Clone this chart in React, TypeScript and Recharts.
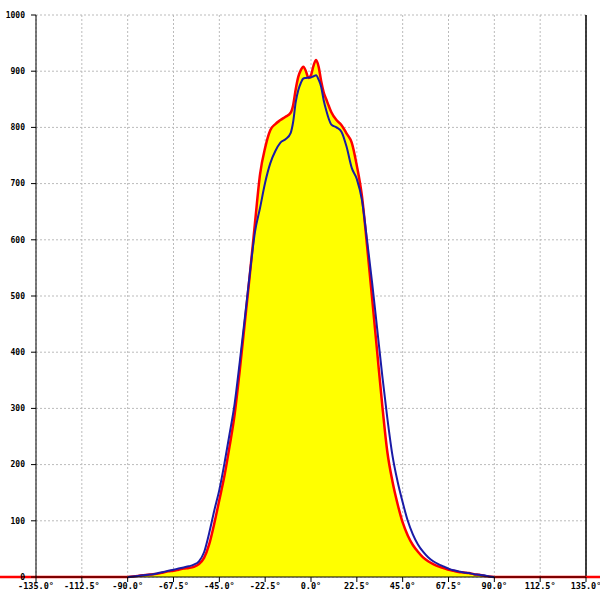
import { AreaChart, Area, Line, XAxis, YAxis, CartesianGrid, ReferenceLine } from "recharts";

const angles = [
  -90, -87.5, -85, -82.5, -80, -77.5, -75, -72.5, -70, -67.5, -65, -62.5, -60, -57.5, -55, -52.5,
  -50, -47.5, -45, -42.5, -40, -37.5, -35, -32.5, -30, -27.5, -25, -22.5, -20, -17.5, -15, -12.5,
  -10, -8.75, -7.5, -6.25, -5, -3.75, -2.5, -1.25, 0, 1.25, 2.5, 3.75, 5, 6.25, 7.5, 8.75,
  10, 12.5, 15, 17.5, 20, 22.5, 25, 27.5, 30, 32.5, 35, 37.5, 40, 42.5, 45, 47.5,
  50, 52.5, 55, 57.5, 60, 62.5, 65, 67.5, 70, 72.5, 75, 77.5, 80, 82.5, 85, 87.5, 90,
];

const redValues = [
  0, 1, 2, 3, 4, 5, 6, 8, 10, 11, 13, 15, 16, 18, 23, 34,
  58, 95, 137, 180, 232, 289, 367, 452, 539, 630, 717, 764, 795, 806, 813, 819,
  826, 840, 868, 890, 902, 908, 900, 888, 893, 910, 920, 908, 882, 862, 850, 838,
  827, 813, 804, 789, 773, 732, 678, 590, 496, 400, 305, 222, 170, 130, 97, 74,
  57, 45, 35, 28, 23, 19, 16, 13, 11, 9, 8, 7, 5, 4, 2, 1, 0,
];

const blueValues = [
  0, 1, 2, 3, 4, 5, 7, 9, 11, 13, 15, 17, 19, 22, 28, 44,
  78, 118, 155, 202, 254, 308, 382, 460, 541, 614, 657, 702, 736, 758, 773, 779,
  790, 810, 845, 866, 879, 887, 888, 889, 889, 891, 893, 885, 872, 848, 830, 815,
  805, 800, 792, 765, 728, 708, 671, 600, 524, 441, 358, 282, 216, 170, 133, 100,
  76, 58, 45, 35, 28, 23, 19, 15, 12, 10, 8, 7, 5, 4, 3, 1, 0,
];

const xTicks = [-135, -112.5, -90, -67.5, -45, -22.5, 0, 22.5, 45, 67.5, 90, 112.5, 135];
const yTicks = [0, 100, 200, 300, 400, 500, 600, 700, 800, 900, 1000];

const data = angles.map((a, i) => ({ angle: a, red: redValues[i], blue: blueValues[i] }));

const tickStyle = { fontFamily: "DejaVu Sans Mono", fontSize: 8, fontWeight: "bold", fill: "#000" };
const xTickStyle = { ...tickStyle, fontSize: 8.5 };

export default function App() {
  return (
    <div style={{ position: "absolute", left: 0, top: 0, background: "#fff" }}>
      <AreaChart width={600} height={600} data={data} margin={{ top: 15, right: 14, left: 0, bottom: 0 }}>
        <CartesianGrid stroke="#bbbbbb" strokeDasharray="2 2" />
        <Area
          type="monotone"
          dataKey="red"
          stroke="#ff0000"
          strokeWidth={2.5}
          fill="#ffff00"
          fillOpacity={1}
          isAnimationActive={false}
          dot={false}
          activeDot={false}
        />
        <Line
          type="monotone"
          dataKey="blue"
          stroke="#1a1aa6"
          strokeWidth={2}
          dot={false}
          activeDot={false}
          isAnimationActive={false}
        />
        <XAxis
          dataKey="angle"
          type="number"
          domain={[-135, 135]}
          ticks={xTicks}
          tickFormatter={(v: number) => `${v.toFixed(1)}°`}
          height={23}
          tickSize={5}
          tickMargin={1}
          stroke="#000"
          tick={xTickStyle}
          interval={0}
        />
        <YAxis
          type="number"
          domain={[0, 1000]}
          ticks={yTicks}
          width={36}
          tickSize={5}
          tickMargin={6}
          stroke="#000"
          tick={tickStyle}
          interval={0}
        />
        <ReferenceLine x={135} stroke="#000" strokeWidth={1.5} />
        <ReferenceLine
          segment={[{ x: -175, y: 0 }, { x: -90, y: 0 }]}
          stroke="#ff0000"
          strokeWidth={2.5}
          ifOverflow="visible"
        />
        <ReferenceLine
          segment={[{ x: 90, y: 0 }, { x: 175, y: 0 }]}
          stroke="#ff0000"
          strokeWidth={2.5}
          ifOverflow="visible"
        />
      </AreaChart>
    </div>
  );
}
